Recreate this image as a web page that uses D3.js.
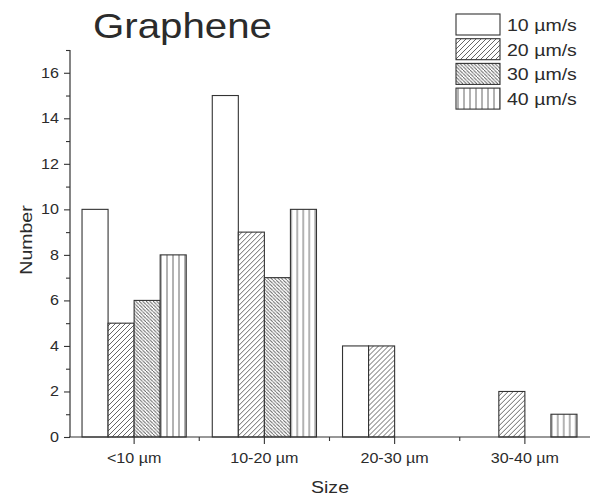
<!DOCTYPE html>
<html>
<head>
<meta charset="utf-8">
<script src="https://cdn.jsdelivr.net/npm/d3@7"></script>
<style>
  body { margin: 0; background: #fff; }
  text { font-family: "Liberation Sans", Arial, sans-serif; fill: #2b2b2b; }
</style>
</head>
<body>
<div id="chart"></div>
<script>
// data
var sizes = ["<10 µm", "10-20 µm", "20-30 µm", "30-40 µm"];
var speeds = ["10 µm/s", "20 µm/s", "30 µm/s", "40 µm/s"];
var v10 = [10, 15, 4, 0];
var v20 = [5, 9, 4, 2];
var v30 = [6, 7, 0, 0];
var v40 = [8, 10, 0, 1];
var yTicks = [0, 2, 4, 6, 8, 10, 12, 14, 16];
var yMinor = [1, 3, 5, 7, 9, 11, 13, 15, 17];

var series = [v10, v20, v30, v40];
var fills = ["#fff", "url(#hatchA)", "url(#hatchB)", "url(#hatchV)"];

var width = 590, height = 497;
var margin = {top: 50, right: 0, bottom: 60, left: 70};
var stretch = 1.15; // the picture's text is a bit wide

var svg = d3.select("#chart").append("svg")
  .attr("width", width)
  .attr("height", height);

// hatch patterns
var defs = svg.append("defs");
function hatch(id, size, path) {
  var p = defs.append("pattern")
    .attr("id", id)
    .attr("patternUnits", "userSpaceOnUse")
    .attr("width", size)
    .attr("height", size);
  p.append("rect").attr("width", size).attr("height", size).attr("fill", "#fff");
  p.append("path").attr("d", path)
    .attr("stroke", "#555").attr("stroke-width", 0.9).attr("fill", "none");
}
hatch("hatchA", 5, "M-1,1 l2,-2 M0,5 l5,-5 M4,6 l2,-2");
hatch("hatchB", 3.5, "M-1,-1 l2,2 M0,0 l3.5,3.5 M2.5,4.5 l2,2");
hatch("hatchV", 6, "M2,0 v6");

var x0 = d3.scaleBand()
  .domain(sizes)
  .range([69, width - margin.right]);

var x1 = d3.scaleBand()
  .domain(d3.range(speeds.length))
  .range([x0.bandwidth() * 0.1, x0.bandwidth() * 0.9]);

var y = d3.scaleLinear()
  .domain([0, 17])
  .range([437, margin.top]);

function wideText(g, x, yy, str, size, anchor) {
  return g.append("text")
    .attr("transform", "translate(" + x + "," + yy + ") scale(" + stretch + ",1)")
    .attr("text-anchor", anchor || "middle")
    .attr("font-size", size)
    .text(str);
}

// bars
var groups = svg.append("g").selectAll("g")
  .data(sizes)
  .join("g")
  .attr("transform", function(d) { return "translate(" + x0(d) + ",0)"; });

groups.selectAll("rect")
  .data(function(d, i) { return series.map(function(s, k) { return {k: k, v: s[i]}; }); })
  .join("rect")
  .filter(function(d) { return d.v > 0; })
  .attr("x", function(d) { return x1(d.k); })
  .attr("y", function(d) { return y(d.v); })
  .attr("width", x1.bandwidth())
  .attr("height", function(d) { return y(0) - y(d.v); })
  .attr("fill", function(d) { return fills[d.k]; })
  .attr("stroke", "#333")
  .attr("stroke-width", 1.1);

// y axis
var yAxis = svg.append("g")
  .attr("transform", "translate(70,0)")
  .call(d3.axisLeft(y).tickValues(yTicks).tickSize(6).tickFormat(""));
yAxis.append("g").call(d3.axisLeft(y).tickValues(yMinor).tickSize(4).tickFormat(""));
yAxis.selectAll("path.domain").remove();
yAxis.append("line").attr("y1", y(0)).attr("y2", y(17)).attr("stroke", "#333").attr("stroke-width", 1.2);
yAxis.selectAll(".tick line").attr("stroke", "#333").attr("stroke-width", 1.1);
yTicks.forEach(function(t) {
  wideText(yAxis, -11, y(t) + 5, t, 14, "end");
});

// x axis
var xAxis = svg.append("g")
  .attr("transform", "translate(0," + y(0) + ")");
xAxis.append("line").attr("x1", 69).attr("x2", width).attr("stroke", "#333").attr("stroke-width", 1.2);
sizes.forEach(function(s) {
  var cx = x0(s) + x0.bandwidth() / 2;
  xAxis.append("line").attr("x1", cx).attr("x2", cx).attr("y2", 7)
    .attr("stroke", "#333").attr("stroke-width", 1.1);
  wideText(xAxis, cx, 26, s, 14);
});
sizes.slice(1).forEach(function(s) {
  xAxis.append("line").attr("x1", x0(s)).attr("x2", x0(s)).attr("y2", 4)
    .attr("stroke", "#333").attr("stroke-width", 1.1);
});

// axis titles
wideText(svg, 330, 493, "Size", 17);
svg.append("text")
  .attr("transform", "translate(32,240) rotate(-90) scale(" + stretch + ",1)")
  .attr("text-anchor", "middle")
  .attr("font-size", 17)
  .text("Number");

// title
wideText(svg, 93, 38, "Graphene", 35, "start");

// legend
var legend = svg.append("g").attr("transform", "translate(456,14)");
speeds.forEach(function(s, i) {
  legend.append("rect")
    .attr("x", 0).attr("y", i * 24.7)
    .attr("width", 44).attr("height", 21)
    .attr("fill", fills[i])
    .attr("stroke", "#333").attr("stroke-width", 1.1);
  wideText(legend, 51, i * 24.7 + 17, s, 17, "start");
});
</script>
</body>
</html>
